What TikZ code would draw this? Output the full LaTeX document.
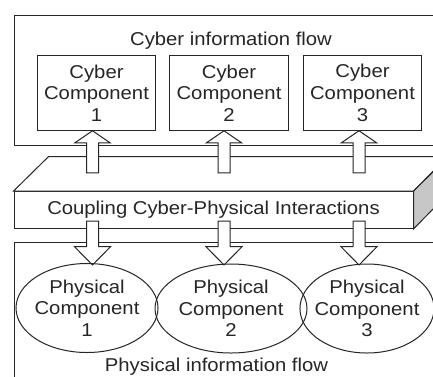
\documentclass[tikz,border=0pt]{standalone}
\usepackage{fontspec}
\setmainfont{Liberation Sans}[FakeStretch=1.09]
\usetikzlibrary{shapes.geometric}
\definecolor{ink}{gray}{0.15}
\definecolor{sidegray}{gray}{0.78}
\tikzset{
  txt/.style={font=\fontsize{18.6}{21.7}\selectfont, text=ink, align=center},
  compbox/.style={txt, draw=ink, line width=1pt, minimum width=118.5pt, minimum height=74.5pt, inner sep=0pt},
  compell/.style={txt, ellipse, draw=ink, line width=1pt, inner xsep=-5pt, inner ysep=0pt, minimum height=89pt},
  hollow/.style={draw=ink, line width=1pt, fill=white, line join=miter},
}

\begin{document}
\begin{tikzpicture}[x=1pt,y=-1pt]
  \clip (0,0) rectangle (433,376);
  \fill[white] (0,0) rectangle (433,376);

  % cyber layer
  \draw[ink, line width=1pt] (14,15) rectangle (460,145);
  \node[txt, anchor=base] (cyberflow) at (231,45) {Cyber information flow};
  \node[compbox] (cc1) at (96.5,93) {Cyber\\Component\\1};
  \node[compbox] (cc2) at (229,93) {Cyber\\Component\\2};
  \node[compbox] (cc3) at (362.5,93) {Cyber\\Component\\3};

  % coupling slab
  \node[txt, draw=ink, line width=1pt, fill=white, minimum width=399pt, minimum height=36.8pt, inner sep=0pt] (slab) at (213.5,210) {Coupling Cyber-Physical Interactions};
  \draw[hollow] (slab.north west) -- ++(35,-34.5) -- ++(399,0) -- (slab.north east) -- cycle;
  \draw[hollow, fill=sidegray] (slab.north east) -- ++(35,-34.5) -- ++(0,36.8) -- (slab.south east) -- cycle;

  % physical layer
  \draw[ink, line width=1pt] (14,242.7) rectangle (460,400);
  \node[txt, anchor=base] (physflow) at (216.5,371.5) {Physical information flow};

  % block arrows
  \coordinate (a1) at (92.5,0);
  \coordinate (a2) at (224,0);
  \coordinate (a3) at (359,0);
  \draw[hollow] (a1 |- cc1.south) -- ++(17.5,12) -- ++(-11.5,0) -- ++(0,30) -- ++(-12,0) -- ++(0,-30) -- ++(-11.5,0) -- cycle;
  \draw[hollow] (a2 |- cc2.south) -- ++(17.5,12) -- ++(-11.5,0) -- ++(0,30) -- ++(-12,0) -- ++(0,-30) -- ++(-11.5,0) -- cycle;
  \draw[hollow] (a3 |- cc3.south) -- ++(17.5,12) -- ++(-11.5,0) -- ++(0,30) -- ++(-12,0) -- ++(0,-30) -- ++(-11.5,0) -- cycle;

  \coordinate (d1) at (92.5,221);
  \coordinate (d2) at (224,221);
  \coordinate (d3) at (359,221);
  \draw[hollow] (d1) ++(-6,0) -- ++(12,0) -- ++(0,25.7) -- ++(12,0) -- ++(-18,18.3) -- ++(-18,-18.3) -- ++(12,0) -- cycle;
  \draw[hollow] (d2) ++(-6,0) -- ++(12,0) -- ++(0,25.7) -- ++(12,0) -- ++(-18,18.3) -- ++(-18,-18.3) -- ++(12,0) -- cycle;
  \draw[hollow] (d3) ++(-6,0) -- ++(12,0) -- ++(0,25.7) -- ++(12,0) -- ++(-18,18.3) -- ++(-18,-18.3) -- ++(12,0) -- cycle;

  % physical components
  \node[compell, minimum width=142pt] (pc1) at (87,308) {Physical\\Component\\1};
  \node[compell, minimum width=152pt] (pc2) at (231,308.5) {Physical\\Component\\2};
  \node[compell, minimum width=134pt] (pc3) at (367,308.5) {Physical\\Component\\3};
\end{tikzpicture}
\end{document}
